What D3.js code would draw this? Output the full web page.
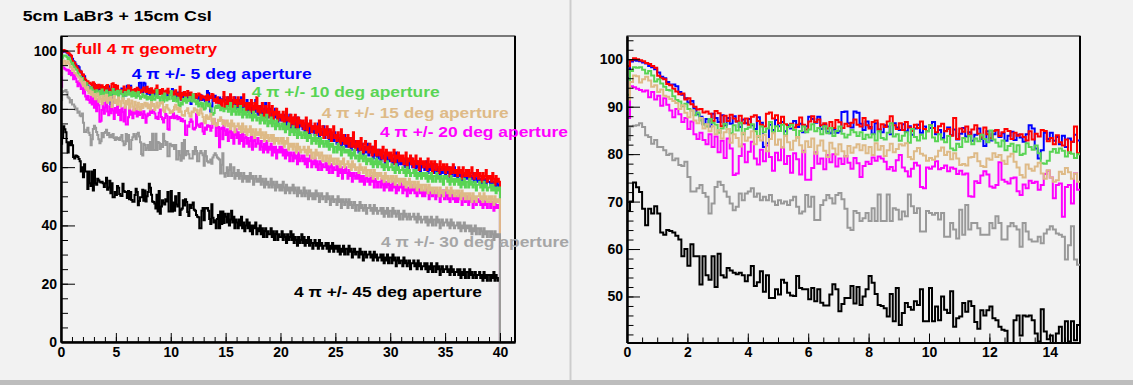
<!DOCTYPE html>
<html>
<head>
<meta charset="utf-8">
<script src="https://cdn.jsdelivr.net/npm/d3@7"></script>
<style>
  body { margin: 0; background: #f2f2f2; }
  text { font-family: "Liberation Sans", Arial, Helvetica, sans-serif; font-weight: bold; }
</style>
</head>
<body>
<div id="canvas"></div>
<script>
// histogram bin width, all series start at 0 and have 400 bins (0 -> 40)
var binWidth = 0.1;

// full 4 pi geometry (red)
var full4pi = [
  98.5,99.8,100.2,100,99.8,99.6,99.2,99,98.6,98.2,
  96.5,96,95.8,94.8,94.5,93.8,93.2,92.6,92.8,91.5,
  91.8,90.5,90,89.4,89.5,88.8,89,88.5,87,89.1,
  88.6,85.9,88.1,87,88.3,87.5,86.9,88.1,86.5,87.5,
  86.2,87.9,88.2,87,86.2,85.8,88.5,88.8,87.5,88.2,
  86.5,87.9,86.3,85.7,86.4,85.6,86.2,87.7,86.2,85.2,
  86.9,88,86.8,87.3,86.1,86.5,85.4,86.8,85.5,87.2,
  86.7,85.5,86.4,85.9,86.6,87.3,86.2,85.8,87.6,86.1,
  85.4,86.8,87.1,85.2,86.3,85.7,86.9,88,86.1,85.3,
  86.5,85.1,86.8,85.6,84.9,86.2,85.5,86.9,85.3,84.8,
  86.1,85.5,84.6,85.9,86.4,84.8,85.3,83.9,87.6,83.2,
  85.4,84.7,85.8,84.1,85.2,86.1,84.3,83.5,85.6,84.2,
  83.4,84.9,85.1,83.8,84.6,85.3,84.9,83.2,84.5,83.9,
  84.2,83.6,82.9,84.8,83.1,84.3,83.7,85.1,84.9,82.7,
  83.4,82.1,84,82.5,81.8,83.1,80.3,82.6,85.8,80.2,
  82,84,81,83,85,82,80,84,82,83,
  81,84,82,80,83,81,85,82,79,82,
  80,82,79,83,81,78,82,80,84,79,
  81,78,80,82,79,77,81,80,78,82,
  77,79,81,76,79,78,80,76,79,77,
  78,76,79,75,77,80,76,77,74,78,
  75,77,74,78,76,73,77,75,76,74,
  76,73,75,77,72,75,74,76,72,74,
  73,75,71,74,72,76,71,73,74,70,
  73,71,74,70,72,73,69,72,74,70,
  71,69,72,70,68,73,69,71,68,70,
  68,71,67,70,69,67,72,68,66,69,
  67,69,66,70,67,65,68,69,66,67,
  65,68,66,64,67,65,69,64,66,65,
  64,66,63,67,65,62,66,64,65,63,
  65,62,64,66,61,64,63,65,62,64,
  62,64,61,63,65,60,63,62,64,61,
  63,60,62,64,61,62,59,63,61,62,
  60,62,61,59,63,60,61,62,58,61,
  62,59,61,60,58,62,60,59,61,60,
  58,61,59,60,57,60,58,61,59,58,
  59,57,60,58,59,56,60,58,57,59,
  57,59,56,58,60,57,56,58,57,59,
  56,58,57,55,58,56,57,59,55,57,
  56,57,55,58,56,54,57,55,56,55
];

// 4 pi +/- 5 deg aperture (blue)
var ap5deg = [
  96,99.5,99.8,99.7,99.6,99.3,99.1,98.6,98.3,97.9,
  97.2,96.3,96,95.2,94.6,94.7,94.3,93.1,92.5,91.8,
  90.9,91.2,89.6,88.4,87.9,86.3,87.4,85.8,88.5,87.6,
  86.8,88.2,86.1,87.6,86.4,88,86.9,85.7,87.3,86.5,
  87.4,86.1,85.3,87.8,86.6,81.5,82.3,86.2,85.1,87.2,
  85.9,86.8,84.8,86.1,85.4,87,85.7,86.4,84.6,85.9,
  87.9,87.4,86.6,87.9,85.3,86.2,84.7,84.4,85.2,84.5,
  84.8,88.9,89,86.5,85.6,89,88.7,86.4,85.1,86.9,
  85.7,84.3,86.5,85.2,84.6,86.1,85.8,84.2,86.5,85.6,
  85.1,86.3,84.8,85.9,84.1,85.4,86.2,84.5,85.8,84.9,
  85.5,86.8,84.2,85.1,83.4,84.9,85.6,84,85.2,83.1,
  84.3,85.5,83.7,84.6,82.8,84.1,85.4,83.2,81.7,84.8,
  82.9,84.2,85.1,83.6,84.4,82.8,83.9,84.7,83,84.1,
  83.5,82.6,84.2,86.1,85.4,81.2,79.1,80.8,84.5,83.2,
  84.5,82.8,83.6,82.1,83.9,81.5,83.3,82.6,84.1,82.9,
  83,81,84,82,80,83,81,82,84,80,
  82,80,83,81,84,79,82,81,80,83,
  79,81,80,82,78,81,79,83,80,78,
  80,79,81,77,80,78,82,79,77,80,
  78,80,76,79,77,80,78,75,78,77,
  76,78,77,75,78,74,77,76,78,73,
  76,74,77,73,75,77,72,76,74,75,
  73,75,72,76,73,74,71,75,73,72,
  74,71,73,72,75,70,73,71,72,74,
  70,72,71,73,69,72,70,71,69,72,
  70,68,71,69,70,67,70,68,71,67,
  69,67,68,70,66,68,67,69,67,66,
  68,65,67,66,68,64,67,65,66,68,
  64,66,65,67,63,66,64,65,63,66,
  64,62,65,63,64,61,64,63,62,64,
  62,64,61,63,62,65,60,63,62,61,
  63,61,62,60,63,61,59,62,61,63,
  60,62,61,59,62,60,61,58,61,60,
  61,59,60,62,58,60,59,61,60,58,
  59,61,58,60,59,57,60,58,59,60,
  57,59,58,60,56,59,57,58,60,57,
  58,56,59,57,58,55,58,57,56,58,
  56,58,55,57,56,58,55,57,56,55,
  57,55,56,54,57,55,56,54,56,55,
  55,54,56,53,55,54,53,55,54,53
];

// 4 pi +/- 10 deg aperture (green)
var ap10deg = [
  92.5,97.5,98.3,98.2,98.3,97.8,97,97.5,96.6,95.3,
  95.8,94.9,94.2,93.5,93.4,92.2,91.4,91.1,90.1,90.6,
  89.5,89.2,88.2,88.8,87.1,86.3,85.8,87.4,86.6,86.2,
  84.5,85.4,86.4,85.3,84.4,86.1,85,86.6,84.2,85.3,
  85.6,86.3,84.8,83.6,85.8,84.6,85.4,86.8,84.6,85.9,
  84.9,86.2,84,85.7,86.2,85.1,83.5,84.9,85.8,84.6,
  85.2,86.3,84.8,85.5,84.2,85.9,84.4,85.5,83.8,84.9,
  85.8,84.3,83.5,84.1,85.1,84.6,83.8,84.6,83.2,84.1,
  83.5,84.2,82.9,84.8,83.4,83.1,84.5,86.5,83.7,84.2,
  82.8,83.9,84.6,82.4,85.3,83.6,82.9,84.1,83.3,84.8,
  86.1,83.5,82.7,84.2,83.1,82.5,83.8,81.2,80.8,82.2,
  81.5,83.4,82.6,83.9,82.1,83.3,82.7,84.1,83.2,82.5,
  85,83.1,82.4,81.6,82.9,80.8,81.7,82.2,80.5,81.9,
  79.8,80.1,82.3,81.5,80.9,81.8,80.2,78.1,78,78.6,
  80.5,81.1,80.3,81.2,80.7,79.5,80.4,80.1,79.2,80,
  80,81,79,80,82,78,80,79,81,78,
  79,80,78,81,79,77,80,78,79,77,
  78,79,77,78,76,79,77,78,76,77,
  77,75,78,76,77,75,76,78,74,76,
  75,77,74,76,75,73,76,74,75,73,
  74,75,73,75,72,74,73,75,71,73,
  72,74,71,73,72,70,73,71,72,70,
  71,72,70,72,69,71,70,71,68,70,
  69,71,68,70,69,67,70,68,69,67,
  68,69,67,69,66,68,67,68,65,67,
  67,65,68,66,67,64,66,67,65,66,
  65,66,64,66,63,65,64,66,63,64,
  64,62,65,63,64,62,63,64,61,63,
  62,63,61,63,60,62,61,63,60,62,
  61,62,60,61,59,61,60,62,59,60,
  60,61,59,60,58,61,59,60,58,59,
  59,60,58,59,57,60,58,59,57,58,
  58,59,57,59,56,58,57,58,56,58,
  57,58,56,58,55,57,56,58,55,57,
  57,55,58,56,57,55,57,56,54,57,
  56,57,55,56,54,57,55,56,54,56,
  55,56,54,56,53,55,54,56,53,55,
  55,53,56,54,55,53,54,55,52,54,
  54,55,53,54,52,55,53,54,52,53,
  53,54,52,54,52,53,51,53,52,53
];

// 4 pi +/- 15 deg aperture (tan)
var ap15deg = [
  91.5,95.2,96.6,96.4,95.1,95.8,96.3,95.5,94.2,94.5,
  93.1,93.6,92.3,92.1,91.6,91.2,90.8,89.5,90.3,88.7,
  87.8,89.2,87.1,86.5,87.6,85.4,86.3,84.8,85.9,84.2,
  85.1,83.3,84.6,85.3,82.4,84.2,83.4,81.6,84.5,82.8,
  83.5,84.8,82.1,83.8,82.9,84.1,80.6,83.2,84.4,82,
  83.1,81.4,83.9,82.5,80.9,82.8,83.6,81.9,80.4,82.7,
  81.5,83.3,80.1,81.8,82.9,80.7,79.4,82.4,81.2,79.9,
  82.1,80.6,79.5,81.7,80.3,81.4,82.1,80.8,81.9,80.2,
  81.5,79.8,82.3,80.9,81.7,79.6,80.8,82.2,80.4,81.1,
  82.1,81.8,82.3,79.4,78.9,80.6,81.3,80.1,79.7,78.6,
  79.2,78.8,79.5,80.7,81.4,79.8,80.5,78.9,80.2,79.1,
  77.7,77.9,77.6,79.3,79.4,80.2,78.5,77.5,77.3,79.1,
  78.8,80.2,79.4,79.8,78.6,77.9,79.5,80.1,78.4,77.2,
  75.6,75.1,77.8,76.9,76.5,77.4,78.2,75.9,74.8,76.6,
  75.1,74.2,74.5,76.3,75.8,77.1,76.2,74.8,75.9,74.2,
  75,76,74,75,73,76,74,75,72,74,
  74,75,73,74,72,75,73,72,74,71,
  73,72,74,71,73,72,70,73,71,72,
  71,73,70,72,71,69,72,70,71,69,
  70,71,69,71,68,70,69,70,68,69,
  70,68,70,67,69,68,70,66,68,67,
  68,66,68,67,65,68,66,67,65,66,
  66,67,65,66,64,67,65,66,63,65,
  65,63,66,64,65,63,64,65,62,64,
  64,62,64,63,61,64,62,63,61,63,
  63,61,63,62,60,62,61,63,60,61,
  61,62,60,61,59,62,60,61,59,60,
  60,58,61,59,60,58,59,60,57,59,
  59,57,59,58,56,59,57,58,56,58,
  57,58,56,57,55,58,56,57,55,56,
  57,55,57,56,54,57,55,56,54,56,
  55,56,54,56,53,55,54,56,53,55,
  55,53,55,54,52,55,53,54,52,54,
  54,52,54,53,51,54,52,53,51,53,
  53,51,53,52,50,53,51,52,50,52,
  52,53,51,52,50,53,51,52,50,51,
  52,50,52,51,49,52,50,51,49,51,
  51,49,51,50,48,51,49,50,48,50,
  50,51,49,50,48,51,49,50,48,49,
  50,48,50,49,47,50,48,49,48,49
];

// 4 pi +/- 20 deg aperture (magenta)
var ap20deg = [
  87.6,94.3,94.1,93.8,93.5,93.2,93.4,92,93.1,91.5,
  92.3,90.2,91.8,90.4,89.2,87.8,89.5,88.4,86.8,87.6,
  85.3,86.9,84.2,83.2,84.5,83,82.1,84.2,81.5,83.7,
  80.4,82.8,79.2,83.3,81.2,75.6,75.9,79.6,82.1,78.3,
  80.5,82.6,79.1,77.8,80.9,78.5,81.8,79.4,76.5,80.3,
  78.7,81.4,77.9,79.6,76.1,80.2,78.9,75.7,80.7,74.6,
  74.6,77.1,80.4,78,79.1,76.8,79.8,78.3,80,77.4,
  79.1,77.9,79.6,78.2,76.9,79.2,78.1,75.2,77.5,78.4,
  77.9,79.3,78.6,79.5,79.1,78.4,76.8,77.3,76.5,78.7,
  79.8,77.2,76.4,75.3,76.9,78.2,77.6,73.1,72.8,77.2,
  76.9,77.4,78.5,76.8,77.1,77.6,76.4,77.2,76.9,75.8,
  76.5,75.7,75.9,71.1,71,74.3,73.9,75.5,76.4,75.7,
  73.2,72.9,73.5,78.3,74.6,74.2,73.8,74.9,75.1,72.2,
  71.4,73.6,72.8,74.4,73.9,74.2,72.5,73.5,75.8,76.5,
  75.1,70.7,73.5,73.8,66.8,73.1,73.5,69.6,75.9,72.5,
  71,73,69,72,74,70,72,68,71,73,
  70,72,68,71,69,72,67,70,71,68,
  70,67,69,71,66,69,70,67,68,70,
  68,66,69,67,65,68,66,69,65,67,
  66,68,64,67,65,67,63,66,65,67,
  65,67,64,66,63,66,64,65,62,65,
  64,62,65,63,64,61,65,62,63,64,
  62,64,61,63,60,63,62,64,60,62,
  61,63,60,62,59,61,62,59,61,60,
  60,62,59,61,58,60,61,58,60,59,
  59,61,57,60,58,60,56,59,58,60,
  58,56,59,57,58,55,58,57,56,58,
  56,58,55,57,55,57,54,56,57,55,
  56,54,57,55,56,53,56,55,53,55,
  55,53,56,54,52,55,53,54,55,52,
  54,52,55,53,54,51,54,52,53,55,
  53,51,54,52,53,50,53,52,51,53,
  52,54,51,53,50,52,53,51,52,50,
  52,50,53,51,52,49,52,51,50,52,
  51,49,52,50,51,48,51,50,52,49,
  50,52,49,51,48,50,51,49,50,48,
  50,48,51,49,50,47,50,49,48,50,
  49,47,50,48,49,46,49,48,47,49,
  48,49,47,48,46,49,47,48,46,48,
  48,46,48,47,45,48,46,47,46,47
];

// 4 pi +/- 30 deg aperture (grey)
var ap30deg = [
  83,85.8,86,86.1,86.5,85.7,84,83.6,82.2,83,
  81.5,81.5,80.8,79.8,80.1,78.7,79.1,77.7,77.5,78.4,
  75.2,72.1,72.1,72.8,73.5,71.8,71,67.5,69.6,73.1,
  74.2,73.5,72.1,71,69.6,68.2,68.9,71.7,70.3,71.7,
  72.1,72.8,71,71.7,70.3,71,70.3,71.4,70,69.3,
  70.3,69.6,70,69.3,70.3,71,68.9,67.5,67.9,71.4,
  68.9,71,66.1,66.1,69.3,70.3,71.4,70.7,69.6,71.4,
  71.8,70.5,68.5,64.5,64,68,67.6,65.9,66.5,67.6,
  65.9,68.6,65.9,71.5,65.9,65.9,71.5,65.9,68.6,68.3,
  66.2,67.9,66.9,71.5,69,67.6,68.6,63.7,63.7,68,
  67.6,67.2,67.6,66.2,67.6,62.6,62.6,65.5,64.1,62.2,
  68.3,63,69.3,64.1,65.5,65.5,64.4,63,63,63,
  65.5,64.4,66.9,65.5,62,62,64.8,65.5,64.8,64.1,
  60.5,65.5,63.7,62,61.6,61.6,62.6,61.2,63.3,64.1,
  64.8,64.1,63.3,63,62.6,57.8,60.8,64.8,57.8,56.7,
  58,60,57,59,61,57,58,60,56,58,
  57,59,56,58,57,55,58,56,57,55,
  57,55,58,56,57,54,56,57,55,56,
  55,57,54,56,55,53,56,54,55,53,
  54,56,53,55,54,52,55,53,54,52,
  54,52,55,53,51,54,52,53,51,53,
  52,54,51,53,52,50,53,51,52,50,
  51,53,50,52,51,49,52,50,51,49,
  51,49,52,50,51,48,50,51,49,50,
  50,48,51,49,50,47,49,50,48,49,
  49,47,50,48,49,46,49,48,47,49,
  48,46,49,47,48,46,47,48,45,47,
  47,45,48,46,47,45,46,47,44,46,
  46,47,45,46,44,47,45,46,44,45,
  45,46,44,46,43,45,44,46,43,45,
  45,43,46,44,45,43,44,45,42,44,
  44,42,45,43,44,42,43,44,42,43,
  43,44,42,43,41,44,42,43,41,42,
  42,43,41,43,40,42,41,43,40,42,
  42,40,43,41,42,39,41,42,40,41,
  41,42,40,41,39,42,40,41,39,40,
  40,41,39,41,38,40,39,41,38,40,
  39,40,38,40,37,39,38,40,37,39,
  39,37,39,38,36,39,37,38,36,38,
  38,36,38,37,35,38,36,37,36,37
];

// 4 pi +/- 45 deg aperture (black)
var ap45deg = [
  68,70,74,73,72,68.5,65,68.5,67.5,69,
  67.5,63.5,63,64,63.8,63.5,62.8,62,58.5,60,
  56.5,61,58.5,58.5,52.5,58.5,54.5,53.5,58.5,52,
  59,54.5,54,56,55.5,55,54.7,55,54.5,53.2,
  54.5,56.4,52.2,53,55.3,51,54.5,49.7,49.7,51.5,
  50.4,53.5,52.9,50.8,50.2,50.1,54.3,51.8,51.5,51.5,
  49.4,51.8,49,51.5,48.7,48.1,48.1,50.4,52.6,51.5,
  46.9,48.4,49.7,49.7,52.2,48.5,52,48.2,50,51.5,
  54.3,52.9,50.5,48.2,48,47.5,45.8,50.5,44.8,51.8,
  44,46.5,48.6,47.8,47.2,49,48.2,51.5,44.8,44.8,
  51.8,44.8,47.9,45,50,47.2,46.5,51.1,43.6,45.4,
  45.8,48.6,46.8,49,48,44.6,43.2,47.1,46,47.1,
  47.9,45.4,45,43.6,43,42.8,39,39,45,46,
  41.8,46,45.8,46,45,42.2,40.5,47.3,42.6,41,
  41.8,39,42.2,43.6,39,44.8,40.5,44.8,40.8,44,
  43,41,44,40,42,45,41,43,39,42,
  41,39,42,40,43,39,41,38,40,42,
  39,41,38,40,37,40,39,41,37,39,
  38,40,37,39,36,38,39,36,38,37,
  37,39,36,38,35,37,38,35,37,36,
  36,38,35,37,36,34,37,35,36,38,
  35,37,34,36,35,33,36,34,35,37,
  34,36,33,35,34,36,33,35,34,32,
  34,35,33,34,32,35,33,34,32,33,
  33,34,32,34,31,33,32,34,31,33,
  32,33,31,33,30,32,31,33,30,32,
  32,30,33,31,32,29,31,32,30,31,
  31,29,32,30,31,28,30,31,29,30,
  30,31,29,30,28,31,29,30,28,29,
  29,30,28,30,27,29,28,30,27,29,
  29,27,30,28,29,26,28,29,27,28,
  28,26,29,27,28,26,27,28,25,27,
  27,28,26,27,25,28,26,27,25,26,
  26,27,25,27,24,26,25,27,24,26,
  26,24,27,25,26,23,25,26,24,25,
  25,26,24,25,23,26,24,25,23,24,
  24,25,23,25,22,24,23,25,22,24,
  24,22,25,23,24,22,23,24,22,23,
  23,24,22,23,21,24,22,23,21,23,
  23,21,23,22,24,21,23,22,21,22
];

var legendLabels = [
  "full 4 π geometry",
  "4 π +/- 5 deg aperture",
  "4 π +/- 10 deg aperture",
  "4 π +/- 15 deg aperture",
  "4 π +/- 20 deg aperture",
  "4 π +/- 30 deg aperture",
  "4 π +/- 45 deg aperture"
];
var titleText = "5cm LaBr3 + 15cm CsI";

// tick values
var leftXTicks = [0, 5, 10, 15, 20, 25, 30, 35, 40];
var leftYTicks = [0, 20, 40, 60, 80, 100];
var rightXTicks = [0, 2, 4, 6, 8, 10, 12, 14];
var rightYTicks = [50, 60, 70, 80, 90, 100];

// ---- styling / layout (not data) ----
var allSeries = [full4pi, ap5deg, ap10deg, ap15deg, ap20deg, ap30deg, ap45deg];
var lineColors = ["#ff0000", "#0000ff", "#59d454", "#deba87", "#ff00ff", "#999999", "#000000"];
var textColors = ["#ff0000", "#0000ff", "#59d454", "#deba87", "#ff00ff", "#a6a6a6", "#000000"];
// drawing order (later ones on top)
var drawOrder = [1, 0, 2, 4, 6, 3, 5];
// legend text: x, baseline y, width
var legendPos = [[76, 54, 141], [131.7, 79, 180], [251.7, 97, 188], [321.7, 118, 187],
                 [380, 136.5, 188], [381, 247, 188], [294, 297, 188]];

var W = 1133, H = 385, bg = "#f2f2f2";

var svg = d3.select("#canvas")
    .append("svg")
    .attr("width", W)
    .attr("height", H);

svg.append("rect").attr("width", W).attr("height", H).attr("fill", bg);

// pad separators
svg.append("line")
    .attr("x1", 570.5).attr("x2", 570.5).attr("y1", 0).attr("y2", 380)
    .attr("stroke", "#cdcdcd").attr("stroke-width", 2);
svg.append("rect")
    .attr("x", 0).attr("y", 380).attr("width", W).attr("height", 5)
    .attr("fill", "#bdbdbd");

var defs = svg.append("defs");

function drawPad(p) {
    var x = d3.scaleLinear().domain(p.xDomain).range([p.left, p.right]);
    var y = d3.scaleLinear().domain(p.yDomain).range([p.bottom, p.top]);

    // frame
    svg.append("rect")
        .attr("x", p.left).attr("y", p.top)
        .attr("width", p.right - p.left).attr("height", p.bottom - p.top)
        .attr("fill", bg).attr("stroke", "#000").attr("stroke-width", 1);
    svg.append("line")
        .attr("x1", p.right).attr("x2", p.right).attr("y1", p.top).attr("y2", p.bottom)
        .attr("stroke", "#000").attr("stroke-width", 2);

    defs.append("clipPath").attr("id", "clip" + p.id)
        .append("rect")
        .attr("x", p.left).attr("y", p.top)
        .attr("width", p.right - p.left).attr("height", p.bottom - p.top);

    var line = d3.line()
        .x(function (d) { return x(d[0]); })
        .y(function (d) { return y(d[1]); })
        .curve(d3.curveStepAfter);

    var g = svg.append("g").attr("clip-path", "url(#clip" + p.id + ")");
    drawOrder.forEach(function (k) {
        var vals = allSeries[k].slice(0, p.nBins);
        var pts = vals.map(function (v, i) { return [i * binWidth, v]; });
        pts.push([vals.length * binWidth, vals[vals.length - 1]]);
        if (p.dropAtEnd) pts.push([vals.length * binWidth, 0]);
        g.append("path")
            .attr("d", line(pts))
            .attr("fill", "none")
            .attr("stroke", lineColors[k])
            .attr("stroke-width", 2)
            .attr("stroke-linejoin", "miter");
    });

    // x axis: minor then major
    svg.append("g")
        .attr("transform", "translate(0," + p.bottom + ")")
        .call(d3.axisBottom(x).tickValues(p.xMinor).tickSize(-5).tickSizeOuter(0).tickFormat(""));
    svg.append("g")
        .attr("class", "axis")
        .attr("transform", "translate(0," + p.bottom + ")")
        .call(d3.axisBottom(x).tickValues(p.xMajor).tickSize(-9).tickSizeOuter(0).tickPadding(5));

    // y axis: minor then major
    svg.append("g")
        .attr("transform", "translate(" + p.left + ",0)")
        .call(d3.axisLeft(y).tickValues(p.yMinor).tickSize(-p.yMinorLen).tickSizeOuter(0).tickFormat(""));
    svg.append("g")
        .attr("class", "axis")
        .attr("transform", "translate(" + p.left + ",0)")
        .call(d3.axisLeft(y).tickValues(p.yMajor).tickSize(-p.yMajorLen).tickSizeOuter(0).tickPadding(4));
}

drawPad({
    id: "L", left: 61, right: 515, top: 36, bottom: 342,
    xDomain: [0, 41.37], yDomain: [0, 105], nBins: 400, dropAtEnd: true,
    xMajor: leftXTicks, xMinor: d3.range(0, 42, 1),
    yMajor: leftYTicks, yMinor: d3.range(0, 106, 5),
    yMajorLen: 14, yMinorLen: 7
});

drawPad({
    id: "R", left: 627, right: 1080, top: 36, bottom: 342.5,
    xDomain: [0, 15], yDomain: [40.3, 104.9], nBins: 150, dropAtEnd: false,
    xMajor: rightXTicks, xMinor: d3.range(0, 15.01, 0.5),
    yMajor: rightYTicks, yMinor: d3.range(42, 105, 2),
    yMajorLen: 13, yMinorLen: 6.5
});

// axis styling
svg.selectAll(".domain").attr("stroke", "#000").attr("stroke-width", 2);
svg.selectAll(".tick line").attr("stroke", "#000").attr("stroke-width", 1);
svg.selectAll(".axis text")
    .attr("fill", "#000")
    .style("font-size", "14px")
    .style("font-family", "'Liberation Sans', Arial, sans-serif")
    .style("font-weight", "bold");

// title
svg.append("text")
    .attr("x", 22.7).attr("y", 21)
    .attr("textLength", 189).attr("lengthAdjust", "spacingAndGlyphs")
    .style("font-size", "15.5px")
    .attr("fill", "#000")
    .text(titleText);

// legend labels
legendLabels.forEach(function (t, i) {
    svg.append("text")
        .attr("x", legendPos[i][0]).attr("y", legendPos[i][1])
        .attr("textLength", legendPos[i][2]).attr("lengthAdjust", "spacingAndGlyphs")
        .style("font-size", "15px")
        .attr("fill", textColors[i])
        .text(t);
});
</script>
</body>
</html>
